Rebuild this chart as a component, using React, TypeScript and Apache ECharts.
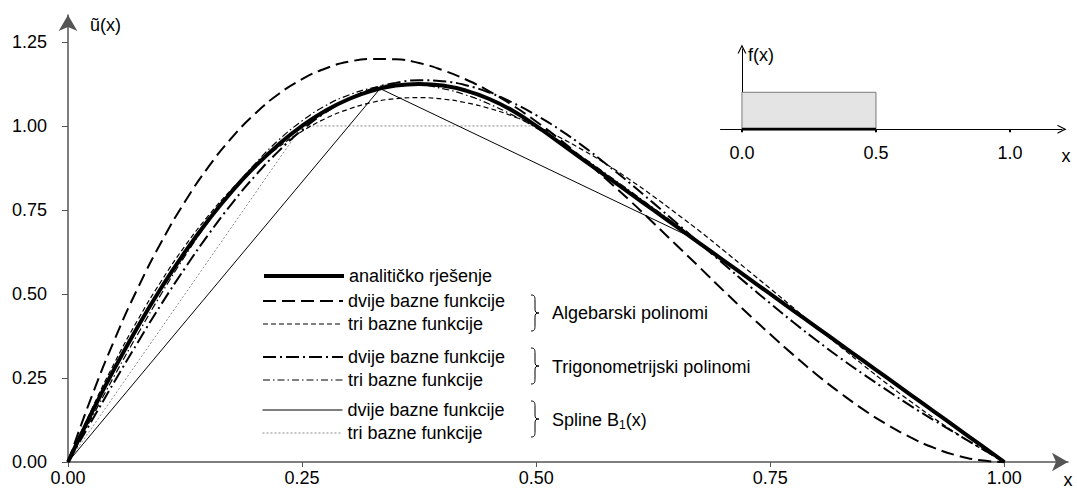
import React, { useEffect, useRef } from 'react';
import * as echarts from 'echarts';

// ---------- data ----------
const xs = [0, 0.025, 0.05, 0.075, 0.1, 0.125, 0.15, 0.175, 0.2, 0.225, 0.25, 0.275, 0.3, 0.325, 0.35, 0.375, 0.4, 0.425, 0.45, 0.475, 0.5,
  0.525, 0.55, 0.575, 0.6, 0.625, 0.65, 0.675, 0.7, 0.725, 0.75, 0.775, 0.8, 0.825, 0.85, 0.875, 0.9, 0.925, 0.95, 0.975, 1];
const analytic = [0, 0.145, 0.28, 0.405, 0.52, 0.625, 0.72, 0.805, 0.88, 0.945, 1.0, 1.045, 1.08, 1.105, 1.12, 1.125, 1.12, 1.105, 1.08, 1.045, 1.0,
  0.95, 0.9, 0.85, 0.8, 0.75, 0.7, 0.65, 0.6, 0.55, 0.5, 0.45, 0.4, 0.35, 0.3, 0.25, 0.2, 0.15, 0.1, 0.05, 0];
const alg2 = [0, 0.193, 0.366, 0.52, 0.656, 0.775, 0.878, 0.965, 1.037, 1.095, 1.139, 1.171, 1.191, 1.199, 1.198, 1.187, 1.166, 1.138, 1.103, 1.061, 1.013,
  0.96, 0.902, 0.841, 0.778, 0.712, 0.645, 0.578, 0.51, 0.444, 0.38, 0.318, 0.259, 0.205, 0.155, 0.111, 0.073, 0.042, 0.019, 0.005, 0];
const alg3 = [0, 0.155, 0.297, 0.425, 0.54, 0.643, 0.733, 0.812, 0.88, 0.937, 0.984, 1.022, 1.05, 1.07, 1.081, 1.084, 1.08, 1.069, 1.052, 1.029, 1.0,
  0.966, 0.928, 0.886, 0.84, 0.791, 0.739, 0.686, 0.63, 0.573, 0.516, 0.458, 0.4, 0.343, 0.287, 0.232, 0.18, 0.13, 0.083, 0.04, 0];
const trig2 = [0, 0.121, 0.241, 0.358, 0.471, 0.577, 0.677, 0.769, 0.852, 0.925, 0.988, 1.04, 1.08, 1.11, 1.128, 1.136, 1.133, 1.121, 1.099, 1.069, 1.032,
  0.989, 0.94, 0.886, 0.83, 0.771, 0.711, 0.65, 0.59, 0.53, 0.472, 0.415, 0.361, 0.309, 0.26, 0.213, 0.167, 0.124, 0.082, 0.041, 0];
const trig3 = [0, 0.13, 0.259, 0.383, 0.502, 0.613, 0.715, 0.807, 0.888, 0.958, 1.015, 1.06, 1.092, 1.113, 1.122, 1.121, 1.111, 1.092, 1.065, 1.032, 0.994,
  0.951, 0.906, 0.857, 0.807, 0.756, 0.705, 0.653, 0.601, 0.55, 0.499, 0.448, 0.398, 0.347, 0.298, 0.248, 0.198, 0.149, 0.099, 0.05, 0];
const spline2X = [0, 0.3333, 0.6667, 1];
const spline2 = [0, 1.111, 0.667, 0];
const spline3X = [0, 0.25, 0.5, 0.75, 1];
const spline3 = [0, 1.0, 1.0, 0.5, 0];

const xTicks = [0, 0.25, 0.5, 0.75, 1];
const yTicks = [0, 0.25, 0.5, 0.75, 1, 1.25];

// inset f(x)
const fX = [0, 0, 0.5, 0.5];
const fY = [0, 1, 1, 0];
const fBaseX = [0, 0.5];
const fBaseY = [0, 0];
const insetTicks = [0, 0.5, 1];

const NAMES = {
  an: 'analitičko rješenje',
  a2: 'Algebarski polinomi: dvije bazne funkcije',
  a3: 'Algebarski polinomi: tri bazne funkcije',
  t2: 'Trigonometrijski polinomi: dvije bazne funkcije',
  t3: 'Trigonometrijski polinomi: tri bazne funkcije',
  s2: 'Spline B1(x): dvije bazne funkcije',
  s3: 'Spline B1(x): tri bazne funkcije',
};
const LEGEND_TEXT: Record<string, string> = {
  [NAMES.an]: 'analitičko rješenje',
  [NAMES.a2]: 'dvije bazne funkcije',
  [NAMES.a3]: 'tri bazne funkcije',
  [NAMES.t2]: 'dvije bazne funkcije',
  [NAMES.t3]: 'tri bazne funkcije',
  [NAMES.s2]: 'dvije bazne funkcije',
  [NAMES.s3]: 'tri bazne funkcije',
};

const FONT = "'Liberation Sans', Arial, Helvetica, sans-serif";
const BRACE_D = 'M0,0 C4,0 4,2 4,6 L4,14 C4,17 5,18 8,18 C5,18 4,19 4,22 L4,30 C4,34 4,36 0,36';
const CHEVRON = 'path://M0,10 L5,0 L10,10 L8.6,10 L5,2.8 L1.4,10 Z';

let shapesRegistered = false;
function ensureShapes() {
  if (shapesRegistered) return;
  echarts.graphic.registerShape('brace', echarts.graphic.extendPath(BRACE_D, {}));
  shapesRegistered = true;
}

const pairs = (x: number[], y: number[]) => x.map((v, i) => [v, y[i]]);

function lineSeries(name: string, x: number[], y: number[], width: number, type: any, color: string, smooth: boolean, z: number) {
  return {
    type: 'line',
    name,
    data: pairs(x, y),
    xAxisIndex: 0,
    yAxisIndex: 0,
    symbol: 'none',
    smooth,
    z,
    lineStyle: { width, type, color },
    itemStyle: { color },
  };
}

function legendBlock(names: string[], widths: number[], top: number) {
  return {
    orient: 'vertical',
    left: 262,
    top,
    padding: 0,
    itemGap: 5,
    itemWidth: 80,
    itemHeight: 14,
    selectedMode: false,
    textStyle: { fontSize: 18, color: '#000', fontFamily: FONT },
    formatter: (n: string) => LEGEND_TEXT[n] ?? n,
    data: names.map((n, i) => ({ name: n, lineStyle: { width: widths[i] }, itemStyle: { opacity: 0 } })),
  };
}

export default function App() {
  const ref = useRef<HTMLDivElement>(null);
  useEffect(() => {
    if (!ref.current) return;
    ensureShapes();
    const chart = echarts.init(ref.current, undefined, { renderer: 'svg' });
    const axisGray = '#555';
    const option: any = {
      animation: false,
      backgroundColor: '#fff',
      textStyle: { fontFamily: FONT },
      grid: [
        { left: 68, right: 9, top: 15, bottom: 33, outerBoundsMode: 'none' },
        { left: 720.5, right: 15, top: 49, bottom: 365.7, outerBoundsMode: 'none' },
      ],
      xAxis: [
        {
          type: 'value', gridIndex: 0, min: 0, max: 1.068,
          axisLine: { show: true, symbol: ['none', 'arrow'], symbolSize: [14, 16], lineStyle: { color: axisGray, width: 1.5 } },
          axisTick: { show: true, length: 5, customValues: xTicks, lineStyle: { color: axisGray } },
          axisLabel: { show: true, customValues: xTicks, margin: 7, fontSize: 18, color: '#000', formatter: (v: number) => v.toFixed(2) },
          splitLine: { show: false },
        },
        {
          type: 'value', gridIndex: 1, min: -0.08, max: 1.194,
          name: 'x', nameLocation: 'end', nameGap: 0, nameMoveOverlap: false,
          nameTextStyle: { fontSize: 18, color: '#000', align: 'center', verticalAlign: 'top', padding: [18, 0, 0, 8] },
          axisLine: { show: true, onZero: true, symbol: ['none', CHEVRON], symbolSize: [11, 9], lineStyle: { color: '#000', width: 1 } },
          axisTick: { show: true, length: 3, customValues: insetTicks, lineStyle: { color: '#000', width: 2 } },
          axisLabel: { show: true, customValues: insetTicks, margin: 15, fontSize: 18, color: '#000', formatter: (v: number) => v.toFixed(1) },
          splitLine: { show: false },
        },
      ],
      yAxis: [
        {
          type: 'value', gridIndex: 0, min: 0, max: 1.33,
          name: 'ũ(x)', nameLocation: 'end', nameGap: -10, nameMoveOverlap: false,
          nameTextStyle: { fontSize: 18, color: '#000', align: 'left', verticalAlign: 'middle', padding: [0, 0, 0, 22] },
          axisLine: { show: true, symbol: ['none', 'arrow'], symbolSize: [14, 16], lineStyle: { color: axisGray, width: 1.5 } },
          axisTick: { show: true, length: 6, customValues: yTicks, lineStyle: { color: axisGray } },
          axisLabel: { show: true, customValues: yTicks, margin: 21, fontSize: 18, color: '#000', formatter: (v: number) => v.toFixed(2) },
          splitLine: { show: false },
        },
        {
          type: 'value', gridIndex: 1, min: 0, max: 2.17,
          name: 'f(x)', nameLocation: 'end', nameGap: -6, nameMoveOverlap: false,
          nameTextStyle: { fontSize: 18, color: '#000', align: 'left', verticalAlign: 'middle', padding: [0, 0, 0, 6] },
          axisLine: { show: true, onZero: true, symbol: ['none', CHEVRON], symbolSize: [11, 9], lineStyle: { color: '#000', width: 1 } },
          axisTick: { show: false },
          axisLabel: { show: false },
          splitLine: { show: false },
        },
      ],
      legend: [
        legendBlock([NAMES.an], [4], 267),
        legendBlock([NAMES.a2, NAMES.a3], [2, 1], 292),
        legendBlock([NAMES.t2, NAMES.t3], [2, 1], 348),
        legendBlock([NAMES.s2, NAMES.s3], [1, 1], 401),
      ],
      series: [
        lineSeries(NAMES.s3, spline3X, spline3, 1, [2, 2], '#8a8a8a', false, 2),
        lineSeries(NAMES.s2, spline2X, spline2, 1, 'solid', '#000', false, 3),
        lineSeries(NAMES.a3, xs, alg3, 1.2, [5, 3], '#000', true, 4),
        lineSeries(NAMES.a2, xs, alg2, 2, [13, 6], '#000', true, 5),
        lineSeries(NAMES.t3, xs, trig3, 1.2, [7, 3, 1.5, 3], '#000', true, 6),
        lineSeries(NAMES.t2, xs, trig2, 2, [13, 4, 2, 4], '#000', true, 7),
        lineSeries(NAMES.an, xs, analytic, 4, 'solid', '#000', true, 8),
        {
          type: 'line', name: 'f(x)', xAxisIndex: 1, yAxisIndex: 1, data: pairs(fX, fY),
          symbol: 'none', lineStyle: { color: '#7a7a7a', width: 1 }, areaStyle: { color: '#e4e4e4', opacity: 1 }, z: 2,
        },
        {
          type: 'line', name: 'f base', xAxisIndex: 1, yAxisIndex: 1, data: pairs(fBaseX, fBaseY),
          symbol: 'none', lineStyle: { color: '#000', width: 3 }, z: 3,
        },
      ],
      graphic: [
        { type: 'text', x: 1068, y: 471, style: { text: 'x', fontSize: 18, fontFamily: FONT, fill: '#000', align: 'center', verticalAlign: 'top' } },
        { type: 'brace', x: 531, y: 295, style: { stroke: '#000', fill: 'none', lineWidth: 1 } },
        { type: 'brace', x: 531, y: 348, style: { stroke: '#000', fill: 'none', lineWidth: 1 } },
        { type: 'brace', x: 531, y: 401, style: { stroke: '#000', fill: 'none', lineWidth: 1 } },
        { type: 'text', x: 552, y: 313, style: { text: 'Algebarski polinomi', fontSize: 18, fontFamily: FONT, fill: '#000', verticalAlign: 'middle' } },
        { type: 'text', x: 552, y: 367, style: { text: 'Trigonometrijski polinomi', fontSize: 18, fontFamily: FONT, fill: '#000', verticalAlign: 'middle' } },
        {
          type: 'text', x: 552, y: 420,
          style: {
            text: '{a|Spline B}{s|1}{a|(x)}', fontFamily: FONT, fill: '#000', verticalAlign: 'middle',
            rich: {
              a: { fontSize: 18, fontFamily: FONT, fill: '#000' },
              s: { fontSize: 12, fontFamily: FONT, fill: '#000', padding: [9, 0, 0, 0] },
            },
          },
        },
      ],
    };
    chart.setOption(option);
    return () => chart.dispose();
  }, []);
  return <div ref={ref} style={{ position: 'absolute', left: 0, top: 0, width: 1077, height: 495 }} />;
}
